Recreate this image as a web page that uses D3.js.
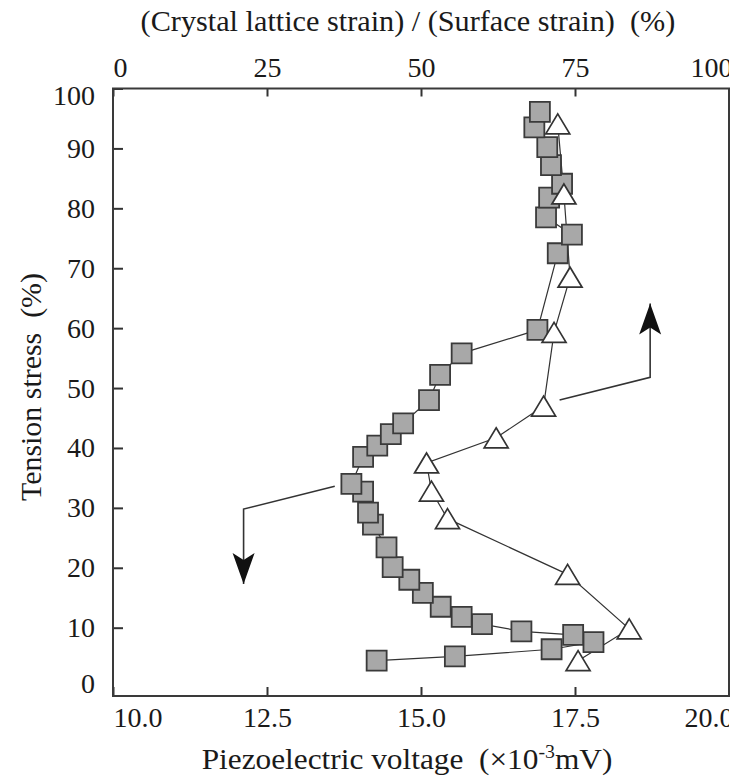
<!DOCTYPE html>
<html>
<head>
<meta charset="utf-8">
<script src="https://cdn.jsdelivr.net/npm/d3@7"></script>
<style>
  body { margin: 0; background: #fff; }
  svg text { font-family: 'Liberation Serif', serif; fill: #1a1a1a; white-space: pre; }
</style>
</head>
<body>
<div id="chart"></div>
<script>
// squares: piezoelectric voltage (bottom axis) against tension stress
const voltValues = [14.28, 15.55, 17.12, 17.80, 17.47, 16.63, 15.99, 15.66, 15.32, 15.03, 14.81, 14.54,
  14.44, 14.22, 14.14, 14.06, 13.87, 14.06, 14.29, 14.51, 14.71, 15.13, 15.31, 15.66,
  16.89, 17.22, 17.45, 17.03, 17.08, 17.29, 17.11, 17.05, 16.84, 16.93];
const voltStress = [4.5, 5.2, 6.4, 7.6, 8.8, 9.4, 10.6, 11.8, 13.5, 15.8, 18.0, 20.1,
  23.4, 27.2, 29.2, 32.7, 34.0, 38.5, 40.4, 42.3, 44.1, 48.0, 52.2, 55.8,
  59.7, 72.5, 75.6, 78.5, 81.8, 84.1, 87.2, 90.2, 93.5, 96.1];

// triangles: (crystal lattice strain)/(surface strain) (top axis) against tension stress
const ratioValues = [75.5, 83.8, 73.8, 54.3, 51.7, 50.9, 62.2, 69.9, 71.6, 74.2, 73.2, 72.2];
const ratioStress = [4.5, 9.8, 18.9, 28.2, 32.8, 37.5, 41.7, 47.0, 59.3, 68.5, 82.4, 94.1];

const stressTicks = [0, 10, 20, 30, 40, 50, 60, 70, 80, 90, 100];
const voltTicks = [10, 12.5, 15, 17.5, 20];
const ratioTicks = [0, 25, 50, 75, 100];

// pointer arrows (down one in bottom-axis units, up one in top-axis units)
const downArrowX = [13.6, 12.12, 12.12], downArrowY = [33.6, 29.8, 17.3];
const upArrowX = [72.5, 87.2, 87.2], upArrowY = [48.0, 51.8, 64.1];

const FONT = "'Liberation Serif', serif";
const W = 736, H = 778;
const svg = d3.select('#chart').append('svg').attr('width', W).attr('height', H)
  .attr('font-family', FONT);

const x = d3.scaleLinear().domain([10, 20]).range([113, 729]);
const xTop = d3.scaleLinear().domain([0, 100]).range([113, 729]);
const y = d3.scaleLinear().domain([-1.4, 100]).range([696, 88.5]);

svg.append('defs').append('clipPath').attr('id', 'labelClip')
  .append('rect').attr('x', 0).attr('y', 0).attr('width', 729).attr('height', H);

function styleAxis(g) {
  g.attr('font-family', FONT).attr('font-size', 28);
  g.select('.domain').remove();
  g.selectAll('.tick line').attr('stroke', '#333').attr('stroke-width', 2);
  g.selectAll('.tick text').attr('font-family', FONT).attr('font-size', 28).attr('fill', '#1a1a1a');
}

// left axis
const yAxis = svg.append('g').attr('transform', 'translate(113,0)')
  .call(d3.axisLeft(y).tickValues(stressTicks).tickSize(-10).tickPadding(18).tickFormat(d3.format('d')))
  .call(styleAxis);
yAxis.selectAll('.tick').filter(d => d === 0).select('line').remove();
yAxis.selectAll('.tick text').attr('dy', d => d === 100 ? '0.57em' : d === 0 ? '0.16em' : '0.32em');

// bottom axis
const bottomWrap = svg.append('g').attr('clip-path', 'url(#labelClip)');
const xAxis = bottomWrap.append('g').attr('transform', 'translate(0,696)')
  .call(d3.axisBottom(x).tickValues(voltTicks).tickSize(-9).tickPadding(11).tickFormat(d3.format('.1f')))
  .call(styleAxis);
xAxis.selectAll('.tick text')
  .attr('text-anchor', (d, i) => i === 0 ? 'start' : i === voltTicks.length - 1 ? 'end' : 'middle')
  .attr('x', (d, i) => i === voltTicks.length - 1 ? 4 : 0);

// top axis
const topWrap = svg.append('g').attr('clip-path', 'url(#labelClip)');
const xTopAxis = topWrap.append('g').attr('transform', 'translate(0,88.5)')
  .call(d3.axisTop(xTop).tickValues(ratioTicks).tickSize(-8).tickPadding(12).tickFormat(d3.format('d')))
  .call(styleAxis);
xTopAxis.selectAll('.tick text')
  .attr('text-anchor', (d, i) => i === 0 ? 'start' : i === ratioTicks.length - 1 ? 'end' : 'middle')
  .attr('x', (d, i) => i === ratioTicks.length - 1 ? 3 : 0);

// titles, fitted to the widths they have in the figure
function fitWidth(t, cx, width) {
  const w = t.node().getBBox().width;
  t.attr('transform', `translate(${cx},0) scale(${width / w},1) translate(${-cx},0)`);
}
const topTitle = svg.append('text').attr('x', 408).attr('y', 31).attr('text-anchor', 'middle')
  .attr('font-size', 30).text('(Crystal lattice strain) / (Surface strain)  (%)');
fitWidth(topTitle, 408, 535);

const xTitle = svg.append('text').attr('x', 407).attr('y', 769).attr('text-anchor', 'middle')
  .attr('font-size', 30);
xTitle.append('tspan').text('Piezoelectric voltage  (\u00d710');
xTitle.append('tspan').attr('font-size', 19).attr('dy', -11).text('-3');
xTitle.append('tspan').attr('dy', 11).text('mV)');
fitWidth(xTitle, 407, 411);

svg.append('text').attr('transform', 'translate(41,387) rotate(-90)')
  .attr('text-anchor', 'middle').attr('font-size', 29)
  .attr('textLength', 228).attr('lengthAdjust', 'spacingAndGlyphs')
  .text('Tension stress  (%)');

// connecting lines
const voltPts = voltValues.map((v, i) => [x(v), y(voltStress[i])]);
const ratioPts = ratioValues.map((v, i) => [xTop(v), y(ratioStress[i])]);
const line = d3.line();
svg.append('path').attr('d', line(voltPts)).attr('fill', 'none').attr('stroke', '#333').attr('stroke-width', 1.2);
svg.append('path').attr('d', line(ratioPts)).attr('fill', 'none').attr('stroke', '#333').attr('stroke-width', 1.2);

// markers
svg.append('g').selectAll('path').data(voltPts).join('path')
  .attr('transform', d => `translate(${d[0]},${d[1]})`)
  .attr('d', d3.symbol(d3.symbolSquare, 400))
  .attr('fill', '#a8a8a8').attr('stroke', '#3a3a3a').attr('stroke-width', 1.8);

svg.append('g').selectAll('path').data(ratioPts).join('path')
  .attr('transform', d => `translate(${d[0]},${d[1]})`)
  .attr('d', 'M0,-10L12,10L-12,10Z')
  .attr('fill', '#fff').attr('stroke', '#333').attr('stroke-width', 1.7);

// arrows
function drawArrow(pts, dir) {
  svg.append('path').attr('d', d3.line()(pts)).attr('fill', 'none')
    .attr('stroke', '#333').attr('stroke-width', 1.6);
  const tip = pts[pts.length - 1];
  svg.append('path')
    .attr('transform', `translate(${tip[0]},${tip[1]}) rotate(${dir === 'up' ? 180 : 0})`)
    .attr('d', 'M0,0L-11,-31L0,-24L11,-31Z').attr('fill', '#111');
}
drawArrow(downArrowX.map((v, i) => [x(v), y(downArrowY[i])]), 'down');
drawArrow(upArrowX.map((v, i) => [xTop(v), y(upArrowY[i])]), 'up');

// frame
svg.append('rect').attr('x', 113).attr('y', 88.5).attr('width', 616).attr('height', 607.5)
  .attr('fill', 'none').attr('stroke', '#3a3a3a').attr('stroke-width', 2);
</script>
</body>
</html>
